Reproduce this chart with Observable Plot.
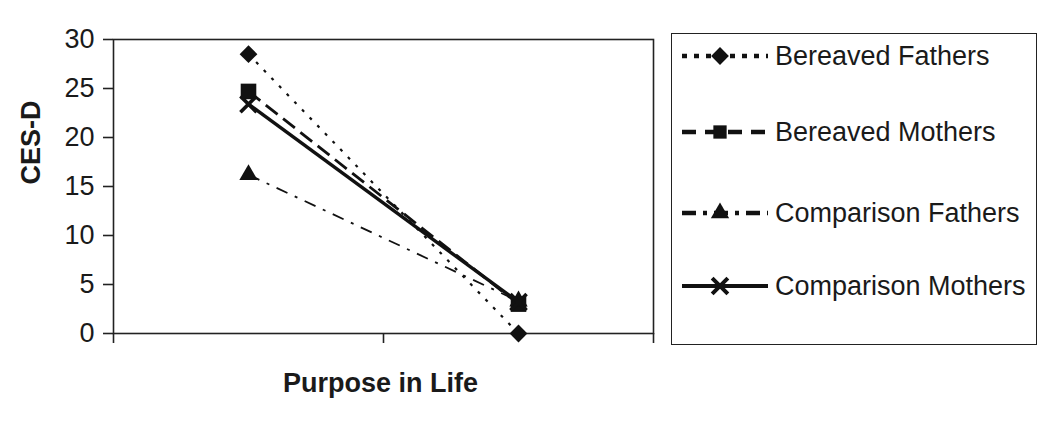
<!DOCTYPE html>
<html>
<head>
<meta charset="utf-8">
<script src="https://cdn.jsdelivr.net/npm/d3@7"></script>
<script src="https://cdn.jsdelivr.net/npm/@observablehq/plot@0.6"></script>
<style>
  html, body { margin: 0; padding: 0; background: #fff; }
  #wrap { position: relative; width: 1050px; height: 422px; font-family: "Liberation Sans", Arial, sans-serif; }
  #legend { position: absolute; left: 671px; top: 33px; width: 366px; height: 312px; border: 1.6px solid #222; box-sizing: border-box; }
  .row { position: absolute; left: 10px; height: 36px; display: flex; align-items: center; }
  .row span { font-size: 27px; color: #1a1a1a; margin-left: 7px; white-space: nowrap; }
</style>
</head>
<body>
<div id="wrap"><div id="legend"></div></div>
<script>
// ---- data ----
const categories = ["Time 1", "Time 2"];           // x-axis categories (labels not shown in the original)
const seriesNames = ["Bereaved Fathers", "Bereaved Mothers", "Comparison Fathers", "Comparison Mothers"];
const bereavedFathers   = [28.5, 0.0];
const bereavedMothers   = [24.7, 3.0];
const comparisonFathers = [16.2, 3.3];
const comparisonMothers = [23.4, 3.2];
const yTicks = [0, 5, 10, 15, 20, 25, 30];
const xTitle = "Purpose in Life";
const yTitle = "CES-D";

const values = [bereavedFathers, bereavedMothers, comparisonFathers, comparisonMothers];
const rows = [];
seriesNames.forEach((s, k) => values[k].forEach((v, i) => rows.push({series: s, cat: categories[i], x: i + 0.5, y: v})));

// ---- styles ----
const styles = {
  "Bereaved Fathers":   {dash: "3,8",       width: 2.2, symbol: "diamond2", r: 8,   lr: 8,   lw: 4.5, ldash: "5,7"},
  "Bereaved Mothers":   {dash: "15,7",      width: 2.8, symbol: "square",   r: 8.8, lr: 7.5, lw: 4.5, ldash: "14,9"},
  "Comparison Fathers": {dash: "12,8,3,8",  width: 1.8, symbol: "triangle", r: 6.8, lr: 6.8, lw: 4.5, ldash: "14,7,4,7"},
  "Comparison Mothers": {dash: null,        width: 3.4, symbol: "times",    r: 7.4, lr: 7.2, lw: 4,   ldash: null}
};
const ink = "#111";

const marks = [];
for (const s of seriesNames) {
  const st = styles[s];
  marks.push(Plot.line(rows.filter(d => d.series === s), {
    x: "x", y: "y", stroke: ink, strokeWidth: st.width,
    strokeDasharray: st.dash || undefined, strokeLinecap: "butt"
  }));
}
for (const s of seriesNames) {
  const st = styles[s];
  const data = rows.filter(d => d.series === s);
  if (st.symbol === "times") {
    marks.push(Plot.dot(data, {x: "x", y: "y", symbol: "times", r: st.r, stroke: ink, strokeWidth: 3.6}));
  } else {
    marks.push(Plot.dot(data, {x: "x", y: "y", symbol: st.symbol, r: st.r, fill: ink, stroke: "none"}));
  }
}

const chart = Plot.plot({
  width: 1050, height: 422,
  marginLeft: 113, marginRight: 397, marginTop: 39, marginBottom: 89,
  style: {fontFamily: "'Liberation Sans', Arial, sans-serif", fontSize: "27px", color: "#1a1a1a", background: "transparent"},
  x: {domain: [0, categories.length], axis: null},
  y: {domain: [0, 30], axis: null},
  marks: [
    Plot.frame({stroke: "#222", strokeWidth: 1.6}),
    Plot.axisY({ticks: yTicks, tickSize: 10, tickPadding: 9, label: null, stroke: "#222", strokeWidth: 1.6, fontSize: 27}),
    Plot.axisX({ticks: d3.range(categories.length + 1), tickSize: 10, tickFormat: () => "", label: null, stroke: "#222", strokeWidth: 1.6}),
    ...marks,
    Plot.text([xTitle], {text: d => d, frameAnchor: "bottom", dx: -3, dy: 58, fontWeight: "bold", fontSize: 27, fill: "#1a1a1a"}),
    Plot.text([yTitle], {text: d => d, frameAnchor: "left", dx: -82, dy: -2, rotate: -90, fontWeight: "bold", fontSize: 27, fill: "#1a1a1a"})
  ]
});
document.getElementById("wrap").prepend(chart);
chart.style.position = "absolute"; chart.style.left = "0"; chart.style.top = "0";

// ---- legend ----
const legend = d3.select("#legend");
const rowTops = [4, 80, 161, 234];
const symMap = {diamond2: d3.symbolDiamond2, square: d3.symbolSquare, triangle: d3.symbolTriangle, times: d3.symbolTimes};
seriesNames.forEach((s, k) => {
  const st = styles[s];
  const row = legend.append("div").attr("class", "row").style("top", rowTops[k] + "px");
  const svg = row.append("svg").attr("width", 86).attr("height", 36);
  svg.append("line").attr("x1", 0).attr("x2", 86).attr("y1", 18).attr("y2", 18)
    .attr("stroke", ink).attr("stroke-width", st.lw).attr("stroke-dasharray", st.ldash);
  const size = Math.PI * st.lr * st.lr;
  const p = svg.append("path").attr("transform", "translate(38,18)").attr("d", d3.symbol(symMap[st.symbol], size)());
  if (st.symbol === "times") p.attr("fill", "none").attr("stroke", ink).attr("stroke-width", 4);
  else p.attr("fill", ink);
  row.append("span").text(s);
});
</script>
</body>
</html>
